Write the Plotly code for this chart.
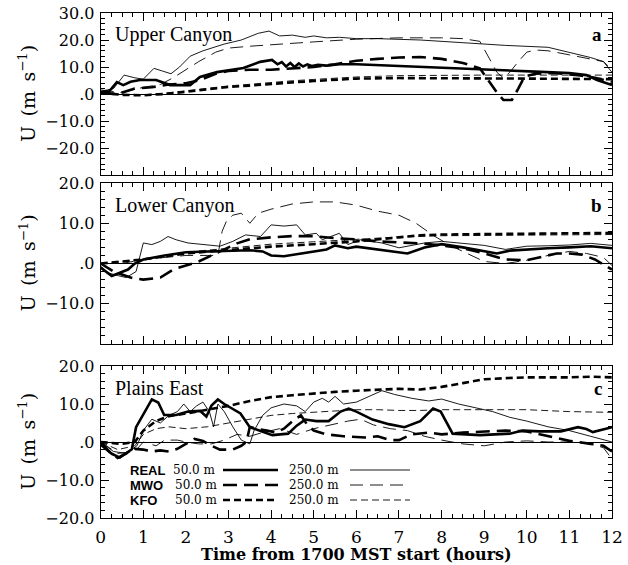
import plotly.graph_objects as go

# ---------------- DATA ----------------
PANEL_TITLES = ["Upper Canyon", "Lower Canyon", "Plains East"]
PANEL_LETTERS = ["a", "b", "c"]
X_TICKS = list(range(0, 13))
Y_TICKS_A = [30, 20, 10, 0, -10, -20]
Y_TICKS_B = [20, 10, 0, -10]
Y_TICKS_C = [20, 10, 0, -10, -20]
Y_RANGES = [[-30, 30], [-20, 20], [-20, 20]]

# Panel a (Upper Canyon)
A_REAL50_T = [0, 0.2, 0.38, 0.53, 0.7, 0.92, 1.3, 1.63, 2.1, 2.33, 2.73, 3.0, 3.35, 3.74, 4.02, 4.15, 4.25, 4.35, 4.45, 4.55, 4.65, 4.75, 4.85, 4.95, 5.1, 5.3, 5.6, 6.0, 7.0, 8.0, 9.0, 10.2, 11.0, 11.4, 11.65, 12.0]
A_REAL50_U = [0.6, 1, 4.4, 3.3, 4.5, 5.2, 5.2, 3.3, 3.3, 6.3, 8.1, 8.7, 9.6, 11.9, 12.6, 11, 11.8, 10.2, 11.5, 10, 11.3, 10.2, 11, 10.4, 10.8, 10.5, 11, 11, 10.3, 9.6, 8.9, 8.3, 7.8, 7, 5.2, 3.3]
A_REAL250_T = [0, 0.3, 0.55, 0.8, 1.0, 1.25, 1.45, 1.65, 1.85, 2.1, 2.4, 2.6, 2.9, 3.3, 3.7, 3.95, 4.2, 4.5, 4.8, 5.0, 5.3, 5.6, 6.0, 6.5, 7.5, 8.5, 9.5, 10.5, 11.0, 11.5, 11.8, 12.0]
A_REAL250_U = [1, 2, 7, 6, 5.5, 9.5, 8.5, 7.5, 10, 14, 16, 17, 18.5, 20, 22.5, 23.3, 21.5, 21.8, 21, 21.5, 20.8, 21, 20.5, 20.5, 20, 19, 18, 17.3, 15.5, 13.5, 12, 8]
A_MWO50_T = [0, 0.4, 0.8, 1.2, 1.6, 2.0, 2.3, 2.7, 3.0, 3.5, 4.0, 4.5, 5.0, 5.5, 6.0, 6.5, 7.0, 7.5, 8.0, 8.5, 8.9, 9.1, 9.3, 9.45, 9.65, 9.8, 9.95, 10.2, 10.6, 11.2, 11.6, 12.0]
A_MWO50_U = [0.5, 0, 2, 2.5, 3.5, 4, 5, 7.5, 8.5, 9, 9, 9.5, 10, 11, 12.3, 13, 13.5, 13.7, 13, 11.5, 9.5, 5, 0.5, -2.2, -2.2, 2, 6.5, 7.5, 7.8, 7, 6, 4.5]
A_MWO250_T = [0, 0.5, 1.0, 1.4, 1.7, 2.0, 2.3, 2.7, 3.0, 3.5, 4.0, 5.0, 6.0, 7.0, 8.0, 8.5, 8.9, 9.1, 9.3, 9.45, 9.6, 9.8, 10.0, 10.2, 10.5, 11.0, 11.5, 11.8, 12.0]
A_MWO250_U = [1.5, 0.5, 2.5, 3.5, 6, 9, 12, 15.5, 17, 17.7, 18.3, 19.3, 20.3, 20.8, 20.8, 20.5, 19.5, 14, 8, 6, 8, 12, 15.5, 16.3, 16, 14.5, 13, 12, 9]
A_KFO50_T = [0, 0.5, 1.0, 1.5, 2.0, 2.5, 3.0, 3.5, 4.0, 4.5, 5.0, 5.5, 6.0, 7.0, 8.0, 9.0, 10.0, 11.0, 12.0]
A_KFO50_U = [0.4, -0.3, -0.5, 0, 0.8, 1.8, 2.6, 3.1, 3.8, 4.3, 4.8, 5.3, 5.7, 5.9, 5.9, 5.8, 5.7, 5.6, 5.5]
A_KFO250_T = [0, 0.5, 1.0, 1.5, 2.0, 2.5, 3.0, 3.5, 4.0, 4.5, 5.0, 5.5, 6.0, 7.0, 8.0, 9.0, 10.0, 11.0, 12.0]
A_KFO250_U = [0.5, -0.2, -0.3, 0.3, 1.2, 2.2, 3, 3.6, 4.3, 4.9, 5.4, 5.9, 6.3, 6.8, 7, 7, 7, 7, 7]

# Panel b (Lower Canyon)
B_REAL50_T = [0, 0.26, 0.45, 0.64, 0.8, 1.0, 1.5, 2.0, 2.5, 3.0, 3.5, 3.8, 4.0, 4.3, 4.6, 5.0, 5.3, 5.5, 5.8, 6.0, 6.5, 7.0, 7.2, 7.6, 8.0, 8.5, 9.0, 9.3, 9.6, 10.0, 10.5, 11.0, 11.5, 12.0]
B_REAL50_U = [-1, -3.1, -2.3, -1.5, 0, 1, 2, 2.8, 3, 3.2, 3.3, 3, 2, 1.8, 2.3, 3, 3.5, 4.5, 3.8, 4.2, 3.5, 2.8, 2.5, 4, 4.8, 4, 3, 2.5, 3.2, 3.5, 3.8, 4, 4.3, 3.8]
B_REAL250_T = [0, 0.17, 0.4, 0.6, 0.83, 1.0, 1.2, 1.4, 1.58, 1.77, 2.05, 2.5, 2.8, 3.1, 3.4, 3.75, 4.0, 4.3, 4.6, 4.8, 5.06, 5.2, 5.4, 5.6, 5.8, 6.1, 6.6, 7.0, 7.6, 8.0, 8.5, 9.0, 9.5, 10.0, 10.5, 11.0, 11.5, 12.0]
B_REAL250_U = [-0.7, -2.3, -3, -3.5, -2, 5.1, 4.7, 5.5, 6.7, 5.9, 5.1, 4.7, 4.3, 5.5, 7.1, 6.7, 9.6, 9.3, 9.6, 7.1, 7.5, 5.9, 6.7, 7.5, 4.7, 5.9, 5.1, 3.9, 5.1, 5.5, 5, 4.5, 3.5, 4.3, 4.4, 4.6, 5, 4.5]
B_MWO50_T = [0, 0.3, 0.7, 1.0, 1.4, 1.7, 2.0, 2.3, 2.6, 2.9, 3.2, 3.5, 4.0, 4.5, 5.0, 5.5, 6.0, 6.5, 7.0, 7.5, 8.0, 8.5, 9.0, 9.5, 10.0, 10.3, 10.7, 11.0, 11.3, 11.6, 12.0]
B_MWO50_U = [0, -2, -3.5, -4, -3.5, -1.5, -0.5, 0.5, 2, 3.5, 5, 6, 6.5, 6.8, 6.8, 6.3, 6, 5.5, 5.2, 5, 4.5, 3.8, 2.5, 1, 0.8, 1.5, 2.5, 2.5, 2.2, 1, -1.5]
B_MWO250_T = [0, 0.5, 1.0, 1.5, 2.0, 2.5, 2.75, 2.85, 2.95, 3.1, 3.3, 3.5, 3.7, 4.0, 4.5, 5.0, 5.5, 6.0, 6.5, 7.0, 7.4, 7.8, 8.2, 8.6, 9.0, 9.5, 10.0, 10.5, 11.0, 11.4, 11.8, 12.0]
B_MWO250_U = [0, 0, 1, 1.5, 2, 2, 2, 8, 10.5, 12, 12.5, 10, 12.5, 13.5, 14.8, 15.3, 15.3, 14.5, 13, 12, 10, 7, 4.5, 2.5, 0.5, 0, 0.8, 2, 3, 2.5, 1.5, -0.5]
B_KFO50_T = [0, 1, 2, 3, 4, 5, 6, 7, 7.5, 8, 9, 10, 11, 12]
B_KFO50_U = [0, 1, 2.5, 3.3, 4.2, 4.8, 5.5, 6.5, 7, 7.2, 7.3, 7.4, 7.5, 7.6]
B_KFO250_T = [0, 1, 2, 3, 4, 5, 6, 7, 8, 9, 10, 11, 12]
B_KFO250_U = [0, 1, 2.8, 3.8, 4.8, 5.4, 6, 6.6, 6.9, 7, 7, 7.1, 7.2]

# Panel c (Plains East)
C_REAL50_T = [0, 0.26, 0.45, 0.73, 0.83, 1.11, 1.2, 1.35, 1.49, 1.77, 2.05, 2.33, 2.48, 2.6, 2.75, 2.9, 3.28, 3.5, 3.75, 4.03, 4.4, 4.6, 4.8, 5.06, 5.35, 5.63, 5.82, 6.0, 6.38, 6.76, 7.13, 7.5, 7.8, 7.98, 8.26, 8.9, 9.6, 9.9, 10.3, 10.8, 11.2, 11.4, 11.55, 11.85, 12.0]
C_REAL50_U = [-0.7, -3.1, -4.1, -1.9, 3.9, 9.6, 11.2, 10.4, 7.1, 7.1, 8, 8.2, 6.7, 9.6, 11.2, 10, 7.5, 3.9, 3, 1.8, 2.2, 4.3, 5.9, 5.5, 5.5, 8, 8.8, 8, 5.9, 4.7, 3.9, 5.5, 8.8, 8, 2.2, 1.8, 2.2, 3, 2.8, 2.8, 3.9, 3.4, 2.6, 3.6, 3.9]
C_REAL250_T = [0, 0.3, 0.6, 0.85, 1.0, 1.2, 1.4, 1.6, 1.8, 1.95, 2.1, 2.25, 2.4, 2.55, 2.65, 2.75, 2.9, 3.1, 3.3, 3.5, 3.6, 3.8, 4.0, 4.3, 4.6, 4.8, 5.0, 5.2, 5.35, 5.5, 5.7, 6.0, 6.3, 6.6, 6.9, 7.3, 7.7, 8.0, 8.4, 8.8, 9.2, 9.6, 10.0, 10.5, 11.0, 11.5, 11.8, 12.0]
C_REAL250_U = [0, -2.5, -3, -1, 3, 6, 5, 7, 8, 10, 8, 9.5, 10.5, 8, 4, 10, 8, 4, 0.5, -0.5, 3, 7, 9, 10, 9.5, 8, 10.5, 11.5, 10.5, 12, 10, 10.5, 12, 13.5, 12.5, 11.5, 10.8, 11.3, 10, 9, 8, 6.5, 5.5, 4, 3, 1.5, 0.5, 0]
C_MWO50_T = [0, 0.2, 0.4, 0.6, 0.8, 1.0, 1.2, 1.4, 1.6, 1.8, 2.0, 2.2, 2.4, 2.6, 2.8, 3.1, 3.3, 3.42, 3.5, 3.65, 3.9, 4.1, 4.3, 4.5, 4.7, 4.85, 5.0, 5.3, 5.7, 6.2, 6.5, 6.8, 7.0, 7.3, 7.7, 8.0, 8.5, 9.0, 9.5, 10.0, 10.5, 11.0, 11.5, 11.8, 12.0]
C_MWO50_U = [0, -2.5, -4.2, -3, -1.8, -2, -2.5, -2.2, -2.5, -1.8, -0.5, 0.8, 0.3, -1, -2, -2, -1, 0, 4, 3.5, 3, 2.5, 3.5, 5.5, 7, 4.5, 3, 2, 1.5, 1.2, 1.5, 0.5, 0.5, 2, 2.5, 2, 2.5, 2.8, 3, 2.8, 1.5, 0.3, -0.5, -1, -2.5]
C_MWO250_T = [0, 0.4, 0.8, 1.0, 1.3, 1.5, 1.8, 2.0, 2.3, 2.6, 2.9, 3.2, 3.5, 3.8, 4.2, 4.6, 5.0, 5.4, 5.8, 6.1, 6.4, 6.8, 7.2, 7.6, 8.0, 8.5, 9.0, 9.5, 10.0, 10.5, 11.0, 11.5, 11.8, 12.0]
C_MWO250_U = [0, -3, -2.5, 0, -1, 0.5, 0.5, 0, -0.5, -0.5, 0.5, 2, 1.5, 2.5, 3.5, 2, 3.5, 4.5, 5.5, 6, 4.5, 3.5, 3, 1.5, 0.5, -0.5, -1, 0, 0.3, 0, 0, -0.5, -1.5, -4.5]
C_KFO50_T = [0, 0.5, 0.8, 1.0, 1.3, 1.6, 2.0, 2.5, 3.0, 3.5, 4.0, 4.5, 5.0, 5.5, 6.0, 6.5, 7.0, 7.5, 8.0, 8.5, 9.0, 9.5, 10.0, 11.0, 11.5, 12.0]
C_KFO50_U = [0, -0.5, 0, 3, 5.5, 6.8, 7.5, 8.5, 9.5, 10.8, 11.8, 12.3, 12.8, 13.2, 13.5, 13.8, 14, 13.8, 14.5, 15.5, 16.5, 16.8, 17, 17, 17.2, 17]
C_KFO250_T = [0, 0.4, 0.8, 1.0, 1.3, 1.6, 2.0, 2.5, 3.0, 3.5, 4.0, 4.5, 5.0, 5.5, 6.0, 6.5, 7.0, 7.5, 8.0, 9.0, 10.0, 11.0, 12.0]
C_KFO250_U = [0, -2, -1, 2, 3.5, 4, 3.5, 4, 5, 6, 7, 7.5, 7.8, 8.2, 8.5, 8.5, 8.3, 8.3, 8.5, 8.5, 8.5, 8, 7.8]

LEGEND_NAMES = ["REAL", "MWO", "KFO"]
LEGEND_HEIGHTS = ["50.0 m", "250.0 m"]

# ---------------- STYLE / LAYOUT ----------------
W, H = 628, 565
X0, X1 = 100.7, 612.0
PANEL_PX = [(13, 175), (183, 344), (366, 518)]

STYLES = {
    ("REAL", 50): dict(width=2.6, dash="solid"),
    ("REAL", 250): dict(width=0.9, dash="solid"),
    ("MWO", 50): dict(width=2.6, dash="14px,7px"),
    ("MWO", 250): dict(width=0.9, dash="13px,7px"),
    ("KFO", 50): dict(width=2.6, dash="7px,4px"),
    ("KFO", 250): dict(width=0.9, dash="7px,4px"),
}

SERIES = [
    [("REAL", 50, A_REAL50_T, A_REAL50_U), ("REAL", 250, A_REAL250_T, A_REAL250_U),
     ("MWO", 50, A_MWO50_T, A_MWO50_U), ("MWO", 250, A_MWO250_T, A_MWO250_U),
     ("KFO", 50, A_KFO50_T, A_KFO50_U), ("KFO", 250, A_KFO250_T, A_KFO250_U)],
    [("REAL", 50, B_REAL50_T, B_REAL50_U), ("REAL", 250, B_REAL250_T, B_REAL250_U),
     ("MWO", 50, B_MWO50_T, B_MWO50_U), ("MWO", 250, B_MWO250_T, B_MWO250_U),
     ("KFO", 50, B_KFO50_T, B_KFO50_U), ("KFO", 250, B_KFO250_T, B_KFO250_U)],
    [("REAL", 50, C_REAL50_T, C_REAL50_U), ("REAL", 250, C_REAL250_T, C_REAL250_U),
     ("MWO", 50, C_MWO50_T, C_MWO50_U), ("MWO", 250, C_MWO250_T, C_MWO250_U),
     ("KFO", 50, C_KFO50_T, C_KFO50_U), ("KFO", 250, C_KFO250_T, C_KFO250_U)],
]


def py(p):
    return 1 - p / H


def px(p):
    return p / W


def fmt(v):
    if v == 0:
        return ".0"
    return ("\u2212" if v < 0 else "") + f"{abs(v):.1f}"


fig = go.Figure()
for i, panel in enumerate(SERIES):
    n = "" if i == 0 else str(i + 1)
    for name, hgt, t, u in panel:
        st = STYLES[(name, hgt)]
        fig.add_trace(go.Scatter(
            x=t, y=u, mode="lines", xaxis="x" + n, yaxis="y" + n,
            line=dict(color="black", width=st["width"], dash=st["dash"]),
            showlegend=False, hoverinfo="skip"))

yticks_all = [Y_TICKS_A, Y_TICKS_B, Y_TICKS_C]
layout = dict(
    width=W, height=H, margin=dict(l=0, r=0, t=0, b=0, autoexpand=False),
    paper_bgcolor="white", plot_bgcolor="white", showlegend=False,
    font=dict(family="DejaVu Serif", color="black"),
)
for i in range(3):
    n = "" if i == 0 else str(i + 1)
    top, bot = PANEL_PX[i]
    layout["xaxis" + n] = dict(
        domain=[px(X0), px(X1)], anchor="y" + n, range=[0, 12], automargin=False,
        tickvals=X_TICKS, ticktext=[str(v) for v in X_TICKS],
        showticklabels=(i == 2),
        ticks="inside", ticklen=8, tickwidth=1, tickcolor="black",
        minor=dict(dtick=0.25, ticks="inside", ticklen=4, tickwidth=1, tickcolor="black"),
        showline=True, linecolor="black", linewidth=1.2, mirror="ticks",
        showgrid=False, zeroline=False,
        tickfont=dict(family="DejaVu Serif", size=17, color="black"),
        ticklabelstandoff=3,
    )
    layout["yaxis" + n] = dict(
        domain=[py(bot), py(top)], anchor="x" + n, range=Y_RANGES[i], automargin=False,
        tickvals=yticks_all[i], ticktext=[fmt(v) for v in yticks_all[i]],
        ticks="inside", ticklen=8, tickwidth=1, tickcolor="black",
        minor=dict(dtick=2, ticks="inside", ticklen=4, tickwidth=1, tickcolor="black"),
        showline=True, linecolor="black", linewidth=1.2, mirror="ticks",
        showgrid=False, zeroline=True, zerolinecolor="black", zerolinewidth=1,
        tickfont=dict(family="DejaVu Serif", size=16, color="black"),
        ticklabelstandoff=2,
    )

annotations = []
shapes = []
for i in range(3):
    top, bot = PANEL_PX[i]
    annotations.append(dict(
        x=px(113), y=py(top + 22), xref="paper", yref="paper", xanchor="left", yanchor="middle",
        text=PANEL_TITLES[i], showarrow=False,
        font=dict(family="Liberation Serif", size=20, color="black")))
    annotations.append(dict(
        x=px(604), y=py(top + 22), xref="paper", yref="paper", xanchor="right", yanchor="middle",
        text="<b>" + PANEL_LETTERS[i] + "</b>", showarrow=False,
        font=dict(family="Liberation Serif", size=19, color="black")))
    annotations.append(dict(
        x=px(27), y=py((top + bot) / 2), xref="paper", yref="paper", xanchor="center", yanchor="middle",
        text="U\u2002(m\u2002s<sup>\u22121</sup>)", textangle=-90, showarrow=False,
        font=dict(family="DejaVu Serif", size=19, color="black")))

annotations.append(dict(
    x=px((X0 + X1) / 2), y=py(554), xref="paper", yref="paper", xanchor="center", yanchor="middle",
    text="<b>Time from 1700 MST start (hours)</b>", showarrow=False,
    font=dict(family="DejaVu Serif", size=16, color="black")))

# legend block
ROW_Y = [470, 485, 500]
for r, name in enumerate(LEGEND_NAMES):
    yy = py(ROW_Y[r])
    annotations.append(dict(x=px(128), y=yy, xref="paper", yref="paper", xanchor="left", yanchor="middle",
                            text="<b>" + name + "</b>", showarrow=False,
                            font=dict(family="Liberation Sans", size=13, color="black")))
    annotations.append(dict(x=px(171 if r == 0 else 173), y=yy, xref="paper", yref="paper", xanchor="left",
                            yanchor="middle", text=LEGEND_HEIGHTS[0], showarrow=False,
                            font=dict(family="DejaVu Serif", size=12, color="black")))
    annotations.append(dict(x=px(287), y=yy, xref="paper", yref="paper", xanchor="left",
                            yanchor="middle", text=LEGEND_HEIGHTS[1], showarrow=False,
                            font=dict(family="DejaVu Serif", size=12, color="black")))
    for hgt, (xa, xb) in ((50, (223, 278)), (250, (350, 410))):
        st = STYLES[(name, hgt)]
        shapes.append(dict(type="line", xref="paper", yref="paper", x0=px(xa), x1=px(xb), y0=yy, y1=yy,
                           line=dict(color="black", width=st["width"], dash=st["dash"])))

layout["annotations"] = annotations
layout["shapes"] = shapes
fig.update_layout(**layout)
fig.write_html("out.html")
